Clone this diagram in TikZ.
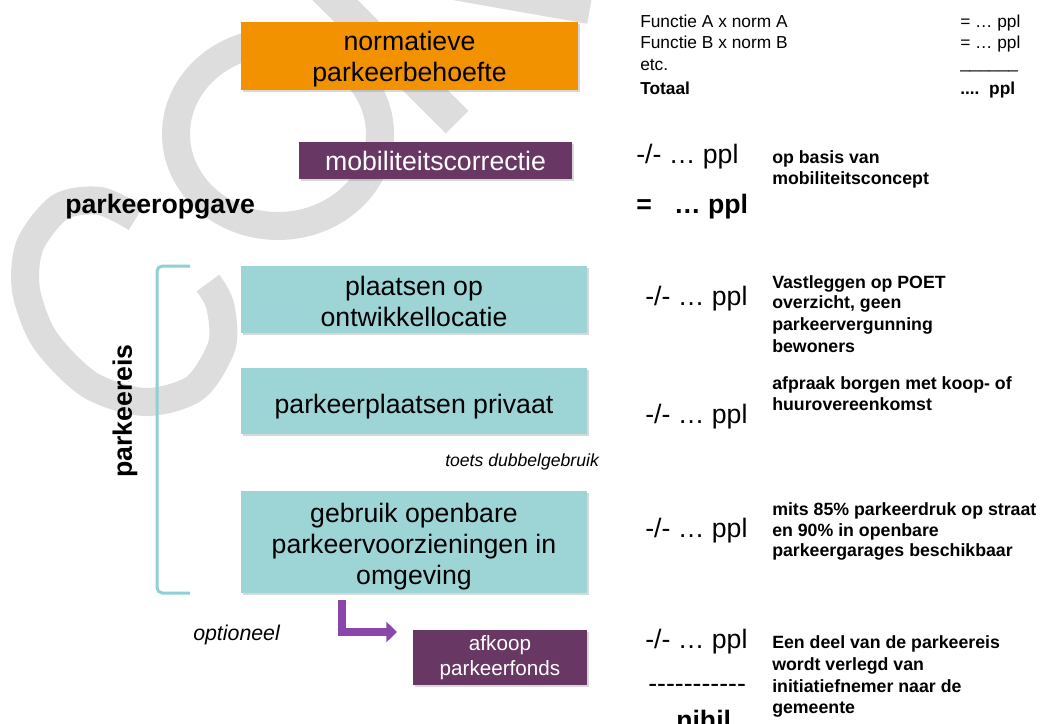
\documentclass[tikz,border=0pt]{standalone}
\usepackage{fontspec}
\setmainfont{Liberation Sans}
\usetikzlibrary{arrows.meta,shadows}
\definecolor{orangebox}{RGB}{243,146,0}
\definecolor{purplebox}{RGB}{105,55,99}
\definecolor{tealbox}{RGB}{157,213,215}
\definecolor{tealline}{RGB}{143,208,212}
\definecolor{arrowpurple}{RGB}{139,70,172}
\definecolor{wmgray}{RGB}{221,221,221}
\begin{document}
\begin{tikzpicture}[x=0.75pt,y=-0.75pt,
  wm/.style={draw=wmgray, line width=21pt},
  box/.style={draw=none, inner sep=0pt,
    drop shadow={shadow xshift=1.2pt, shadow yshift=-1.5pt, opacity=0.3}},
  orangestyle/.style={box, fill=orangebox},
  purplestyle/.style={box, fill=purplebox},
  tealstyle/.style={box, fill=tealbox, minimum width=259.5pt},
  boxtext/.style={inner sep=0pt, align=center, font=\fontsize{20}{23.5}\selectfont},
  lbl/.style={inner sep=0pt, anchor=base west},
  smalltxt/.style={lbl, font=\fontsize{13}{15}\selectfont},
  smallbold/.style={lbl, font=\fontsize{13}{15}\selectfont\bfseries},
  notetxt/.style={lbl, font=\fontsize{13.3}{15}\selectfont\bfseries},
  bigtxt/.style={lbl, font=\fontsize{20}{24}\selectfont},
  bigbold/.style={lbl, font=\fontsize{20}{24}\selectfont\bfseries},
  italtxt/.style={lbl, font=\fontsize{13.2}{15}\selectfont\itshape},
  bracketline/.style={draw=tealline, line width=2.25pt, rounded corners=4pt},
  arrowline/.style={draw=arrowpurple, line width=5.5pt,
    -{Triangle[width=15pt,length=8pt]}}
]
\useasboundingbox (0,0) rectangle (1040,724);
\fill[white] (0,0) rectangle (1040,724);

% watermark
\draw[wm] plot[smooth] coordinates {(136,218) (100,201) (60,207) (30,245) (26,290) (45,340) (90,385) (145,402) (195,388) (222,345) (220,305) (208,283)};
\draw[wm] (278,134) ellipse [x radius=76.5pt, y radius=69pt];
\draw[wm, line width=24pt] (457,122) -- (270,-65);
\draw[wm, line width=24pt] (290,-45) -- (590,8);

% boxes
\node[orangestyle, minimum width=252.75pt, minimum height=51pt] (norm) at (409.5,56) {};
\node[boxtext] (normtxt) at ([yshift=-2.5pt]norm.center) {normatieve\\parkeerbehoefte};
\node[purplestyle, minimum width=204.75pt, minimum height=27.75pt] (mob) at (435.5,160.5) {};
\node[boxtext, text=white] (mobtxt) at ([yshift=-0.6pt]mob.center) {mobiliteitscorrectie};
\node[tealstyle, minimum height=50.25pt] (plaatsen) at (414,299.5) {};
\node[boxtext] (plaatsentxt) at ([yshift=-1.5pt]plaatsen.center) {plaatsen op\\ontwikkellocatie};
\node[tealstyle, minimum height=49.5pt] (privaat) at (414,401) {};
\node[boxtext] (privaattxt) at ([yshift=-4.5pt]privaat.center) {parkeerplaatsen privaat};
\node[tealstyle, minimum height=76.5pt] (openbaar) at (414,542) {};
\node[boxtext] (openbaartxt) at ([yshift=-3.5pt]openbaar.center) {gebruik openbare\\parkeervoorzieningen in\\omgeving};
\node[purplestyle, minimum width=130.5pt, minimum height=41.25pt] (afkoop) at (500,657.5) {};
\node[boxtext, text=white, font=\fontsize{15.5}{18.75}\selectfont] (afkooptxt) at (afkoop.center) {afkoop\\parkeerfonds};

% bracket
\coordinate (brTop) at (190,266);
\coordinate (brBot) at (190,593);
\draw[bracketline] (brTop) -- (157,266) -- (157,593) -- (brBot);

% arrow
\coordinate (arrS) at (342,600);
\coordinate (arrE) at (397,632);
\draw[arrowline] (arrS) |- (arrE);

% left labels
\node[bigbold] (opgave) at (65,214) {parkeeropgave};
\node[inner sep=0pt, rotate=90, font=\fontsize{20}{24}\selectfont\bfseries] (eis) at (125,411) {parkeereis};
\node[italtxt] (toets) at (445,466) {toets dubbelgebruik};
\node[lbl, font=\fontsize{16}{18}\selectfont\itshape] (opt) at (193,640) {optioneel};

% top right block
\node[smalltxt] (fa) at (640,28) {Functie A x norm A};
\node[smalltxt] (fav) at (960,28) {= … ppl};
\node[smalltxt] (fb) at (640,49) {Functie B x norm B};
\node[smalltxt] (fbv) at (960,49) {= … ppl};
\node[smalltxt] (etc) at (640,71) {etc.};
\node[smalltxt] (uline) at (960,69) {\_\_\_\_\_\_};
\node[smallbold] (tot) at (640,94) {Totaal};
\node[smallbold] (totv) at (960,94) {....\ \ ppl};

% values
\node[bigtxt] (v1) at (636,163) {-/- … ppl};
\node[notetxt] (n1a) at (772,163) {op basis van};
\node[notetxt] (n1b) at (772,185) {mobiliteitsconcept};
\node[bigbold] (v2) at (636,214) {=\ \ \ … ppl};

\node[bigtxt] (v3) at (645,305) {-/- … ppl};
\node[notetxt] (n3a) at (772,288) {Vastleggen op POET};
\node[notetxt] (n3b) at (772,308) {overzicht, geen};
\node[notetxt] (n3c) at (772,330) {parkeervergunning};
\node[notetxt] (n3d) at (772,352) {bewoners};

\node[notetxt] (n4a) at (772,389) {afpraak borgen met koop- of};
\node[notetxt] (n4b) at (772,410) {huurovereenkomst};
\node[bigtxt] (v4) at (645,423) {-/- … ppl};

\node[notetxt] (n5a) at (772,515) {mits 85\% parkeerdruk op straat};
\node[notetxt] (n5b) at (772,536) {en 90\% in openbare};
\node[notetxt] (n5c) at (772,556) {parkeergarages beschikbaar};
\node[bigtxt] (v5) at (645,537) {-/- … ppl};

\node[bigtxt] (v6) at (645,648) {-/- … ppl};
\node[bigtxt] (dash) at (648,692) {-{}-{}-{}-{}-{}-{}-{}-{}-{}-{}-};
\node[bigbold] (nihil) at (676,729) {nihil};
\node[notetxt] (n6a) at (772,648) {Een deel van de parkeereis};
\node[notetxt] (n6b) at (772,670) {wordt verlegd van};
\node[notetxt] (n6c) at (772,692) {initiatiefnemer naar de};
\node[notetxt] (n6d) at (772,713) {gemeente};
\end{tikzpicture}
\end{document}
